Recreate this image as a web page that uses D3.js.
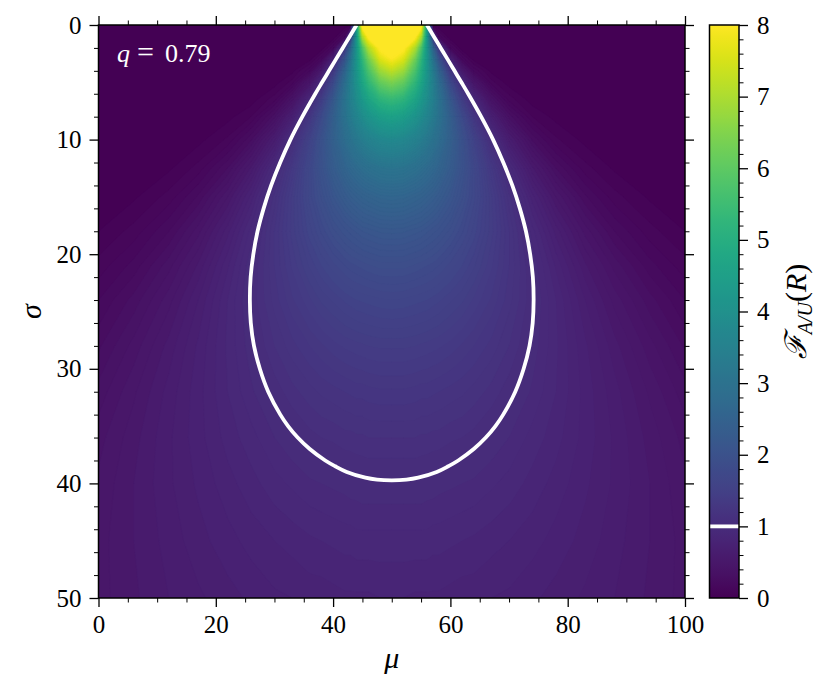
<!DOCTYPE html>
<html><head><meta charset="utf-8">
<script src="https://cdn.jsdelivr.net/npm/d3@7"></script>
<style>body{margin:0;background:#fff;}</style>
</head><body>
<svg id="chart" width="832" height="695"></svg>
<script>
// ---------------- DATA ----------------
// grid columns (mu) and rows (sigma) of the sampled field F_{A/U}(R)
const muCols = [0,6,12,17,22,26,30,33,36,38,40,42,43,44,45,46,48,50,52,54,55,56,57,58,60,62,64,67,70,74,78,83,88,94,100];
const sigmaRows = [0,1,2,3,4,5,6.5,8,10,12.5,15,18,21,24,28,32,36,40,45,50];
const F = [
[0,0,0,0,0,0,0,0,0,0,0,0,0,4.17,8.33,8.33,8.33,8.33,8.33,8.33,8.33,4.17,0,0,0,0,0,0,0,0,0,0,0,0,0],
[0,0,0,0,0,0,0,0,0,0,0,0.19,1.32,4.17,7.01,8.14,8.33,8.33,8.33,8.14,7.01,4.17,1.32,0.19,0,0,0,0,0,0,0,0,0,0,0],
[0,0,0,0,0,0,0,0,0,0.01,0.19,1.32,2.57,4.17,5.76,7.01,8.14,8.31,8.14,7.01,5.76,4.17,2.57,1.32,0.19,0.01,0,0,0,0,0,0,0,0,0],
[0,0,0,0,0,0,0,0,0.03,0.19,0.76,2.10,3.08,4.17,5.25,6.23,7.54,7.95,7.54,6.23,5.25,4.17,3.08,2.10,0.76,0.19,0.03,0,0,0,0,0,0,0,0],
[0,0,0,0,0,0,0,0.03,0.19,0.56,1.32,2.57,3.34,4.16,4.96,5.71,6.82,7.22,6.82,5.71,4.96,4.16,3.34,2.57,1.32,0.56,0.19,0.03,0,0,0,0,0,0,0],
[0,0,0,0,0,0,0.02,0.12,0.46,0.96,1.76,2.85,3.47,4.10,4.71,5.27,6.11,6.42,6.11,5.27,4.71,4.10,3.47,2.85,1.76,0.96,0.46,0.12,0.02,0,0,0,0,0,0],
[0,0,0,0,0,0.02,0.13,0.38,0.90,1.46,2.19,3.03,3.47,3.90,4.30,4.66,5.18,5.37,5.18,4.66,4.30,3.90,3.47,3.03,2.19,1.46,0.90,0.38,0.13,0.02,0,0,0,0,0],
[0,0,0,0,0.03,0.10,0.33,0.69,1.27,1.79,2.38,3.01,3.32,3.61,3.88,4.11,4.44,4.56,4.44,4.11,3.88,3.61,3.32,3.01,2.38,1.79,1.27,0.69,0.33,0.10,0.03,0,0,0,0],
[0,0,0.01,0.03,0.11,0.29,0.63,1.04,1.58,1.99,2.42,2.83,3.03,3.21,3.37,3.51,3.70,3.76,3.70,3.51,3.37,3.21,3.03,2.83,2.42,1.99,1.58,1.04,0.63,0.29,0.11,0.03,0.01,0,0],
[0,0.01,0.04,0.12,0.30,0.56,0.94,1.31,1.72,2.01,2.29,2.54,2.66,2.76,2.85,2.93,3.04,3.07,3.04,2.93,2.85,2.76,2.66,2.54,2.29,2.01,1.72,1.31,0.94,0.56,0.30,0.12,0.04,0.01,0],
[0.01,0.04,0.12,0.26,0.50,0.77,1.12,1.41,1.72,1.91,2.10,2.26,2.34,2.40,2.46,2.50,2.57,2.59,2.57,2.50,2.46,2.40,2.34,2.26,2.10,1.91,1.72,1.41,1.12,0.77,0.50,0.26,0.12,0.04,0.01],
[0.05,0.12,0.25,0.43,0.68,0.92,1.20,1.42,1.63,1.76,1.88,1.98,2.02,2.06,2.10,2.12,2.16,2.17,2.16,2.12,2.10,2.06,2.02,1.98,1.88,1.76,1.63,1.42,1.20,0.92,0.68,0.43,0.25,0.12,0.05],
[0.12,0.22,0.38,0.56,0.79,0.99,1.20,1.36,1.51,1.60,1.68,1.75,1.78,1.80,1.82,1.84,1.87,1.87,1.87,1.84,1.82,1.80,1.78,1.75,1.68,1.60,1.51,1.36,1.20,0.99,0.79,0.56,0.38,0.22,0.12],
[0.20,0.32,0.48,0.65,0.85,1.01,1.17,1.29,1.39,1.46,1.51,1.56,1.58,1.60,1.61,1.62,1.64,1.65,1.64,1.62,1.61,1.60,1.58,1.56,1.51,1.46,1.39,1.29,1.17,1.01,0.85,0.65,0.48,0.32,0.20],
[0.29,0.42,0.57,0.71,0.86,0.98,1.10,1.18,1.25,1.29,1.33,1.36,1.37,1.38,1.39,1.40,1.41,1.41,1.41,1.40,1.39,1.38,1.37,1.36,1.33,1.29,1.25,1.18,1.10,0.98,0.86,0.71,0.57,0.42,0.29],
[0.37,0.49,0.62,0.73,0.85,0.94,1.02,1.08,1.13,1.16,1.18,1.20,1.21,1.22,1.22,1.23,1.24,1.24,1.24,1.23,1.22,1.22,1.21,1.20,1.18,1.16,1.13,1.08,1.02,0.94,0.85,0.73,0.62,0.49,0.37],
[0.43,0.53,0.64,0.73,0.82,0.88,0.95,0.99,1.03,1.05,1.06,1.08,1.08,1.09,1.09,1.10,1.10,1.10,1.10,1.10,1.09,1.09,1.08,1.08,1.06,1.05,1.03,0.99,0.95,0.88,0.82,0.73,0.64,0.53,0.43],
[0.46,0.55,0.64,0.71,0.78,0.83,0.88,0.91,0.94,0.95,0.96,0.97,0.98,0.98,0.99,0.99,0.99,0.99,0.99,0.99,0.99,0.98,0.98,0.97,0.96,0.95,0.94,0.91,0.88,0.83,0.78,0.71,0.64,0.55,0.46],
[0.48,0.55,0.62,0.68,0.73,0.77,0.80,0.82,0.84,0.85,0.86,0.87,0.87,0.88,0.88,0.88,0.88,0.88,0.88,0.88,0.88,0.88,0.87,0.87,0.86,0.85,0.84,0.82,0.80,0.77,0.73,0.68,0.62,0.55,0.48],
[0.48,0.54,0.60,0.64,0.68,0.71,0.74,0.75,0.77,0.77,0.78,0.79,0.79,0.79,0.79,0.79,0.80,0.80,0.80,0.79,0.79,0.79,0.79,0.79,0.78,0.77,0.77,0.75,0.74,0.71,0.68,0.64,0.60,0.54,0.48]
];
// the F = 1 contour (white line)
const contourMu = [44,42.83,41.65,40.47,39.3,38.13,36.97,34.76,32.73,30.98,29.44,28.16,27.12,26.4,25.94,25.81,25.97,26.51,27.51,28.94,31.0,32.32,33.96,36.02,38.66,40.35,42.33,45.5,47.5,50,
  52.5,54.5,57.67,59.65,61.34,63.98,66.04,67.68,69.0,71.06,72.49,73.49,74.03,74.19,74.06,73.6,72.88,71.84,70.56,69.02,67.27,65.24,63.03,61.87,60.7,59.53,58.35,57.17,56];
const contourSigma = [0,1,2,3,4,5,6,8,10,12,14,16,18,20,22,24,26,28,30,32,34,35,36,37,38,38.5,39,39.5,39.67,39.73,
  39.67,39.5,39,38.5,38,37,36,35,34,32,30,28,26,24,22,20,18,16,14,12,10,8,6,5,4,3,2,1,0];
const xTicks = [0,20,40,60,80,100];
const yTicks = [0,10,20,30,40,50];
const cbTicks = [0,1,2,3,4,5,6,7,8];
const contourLevel = 1;
const annotationValue = "0.79";

// ---------------- LAYOUT ----------------
const FONT = '"Liberation Serif", "DejaVu Serif", serif';
const X0 = 98.5, X1 = 685, Y0 = 25, Y1 = 598;
const CB0 = 709.5, CB1 = 739;
const svg = d3.select('#chart');
const x = d3.scaleLinear().domain([0,100]).range([X0,X1]);
const y = d3.scaleLinear().domain([0,50]).range([Y0,Y1]);
const cbY = d3.scaleLinear().domain([0,8]).range([Y1,Y0]);
const color = d3.scaleSequential(d3.interpolateViridis).domain([0,8]).clamp(true);

const defs = svg.append('defs');
defs.append('clipPath').attr('id','plotclip').append('rect')
  .attr('x',X0).attr('y',Y0).attr('width',X1-X0).attr('height',Y1-Y0);
const grad = defs.append('linearGradient').attr('id','cbgrad')
  .attr('x1',0).attr('y1',1).attr('x2',0).attr('y2',0);
d3.range(0,1.0001,0.02).forEach(t=>grad.append('stop').attr('offset',t).attr('stop-color',d3.interpolateViridis(t)));

// ---------------- HEATMAP via d3.contours ----------------
const nx = muCols.length, ny = sigmaRows.length;
const values = [];
F.forEach(row=>row.forEach(v=>values.push(v)));
const colScale = d3.scaleLinear().domain(d3.range(nx)).range(muCols);
const rowScale = d3.scaleLinear().domain(d3.range(ny)).range(sigmaRows);
const step = 0.05;
const thresholds = d3.range(0, 8 + step/2, step);
const contours = d3.contours().size([nx, ny]).thresholds(thresholds)(values);
const proj = d3.geoTransform({point: function(cx, cy){
  const gi = Math.max(0, Math.min(nx-1, cx-0.5));
  const gj = Math.max(0, Math.min(ny-1, cy-0.5));
  this.stream.point(x(colScale(gi)), y(rowScale(gj)));
}});
const path = d3.geoPath(proj);
const heat = svg.append('g').attr('clip-path','url(#plotclip)');
heat.append('rect').attr('x',X0).attr('y',Y0).attr('width',X1-X0).attr('height',Y1-Y0).attr('fill',color(0));
heat.selectAll('path').data(contours).join('path')
  .attr('d', path)
  .attr('fill', d=>color(Math.min(8, d.value + step/2)))
  .attr('stroke', d=>color(Math.min(8, d.value + step/2)))
  .attr('stroke-width', 0.3);

// ---------------- CONTOUR LINE ----------------
const pts = contourMu.map((m,i)=>[m, contourSigma[i]]);
const line = d3.line().x(d=>x(d[0])).y(d=>y(d[1])).curve(d3.curveCatmullRom.alpha(0.5));
svg.append('g').attr('clip-path','url(#plotclip)').append('path')
  .attr('d', line(pts)).attr('fill','none').attr('stroke','#fff')
  .attr('stroke-width',3.8).attr('stroke-linejoin','round');

// annotation
const ann = svg.append('text').attr('x',117).attr('y',62).attr('fill','#fff')
  .style('font-family',FONT).attr('font-size',26);
ann.append('tspan').attr('font-style','italic').text('q');
ann.append('tspan').attr('x',137).attr('font-size',30).text('=');
ann.append('tspan').attr('x',165).text(annotationValue);

// ---------------- AXES ----------------
function style(g, size){
  g.attr('font-family', null);
  g.select('.domain').remove();
  g.selectAll('line').attr('stroke','#000').attr('stroke-width', size>5?1.3:1);
  g.selectAll('text').style('font-family',FONT).attr('font-size',25).attr('fill','#000');
}
const xMinor = d3.range(0,101,5).filter(v=>!xTicks.includes(v));
const yMinor = d3.range(0,51,2).filter(v=>!yTicks.includes(v));
const MAJ = 9, MIN = 4.5;
// bottom
svg.append('g').attr('transform',`translate(0,${Y1})`).call(d3.axisBottom(x).tickValues(xTicks).tickSize(MAJ).tickPadding(8)).call(style,MAJ);
svg.append('g').attr('transform',`translate(0,${Y1})`).call(d3.axisBottom(x).tickValues(xMinor).tickSize(MIN).tickFormat('')).call(style,MIN);
// top
svg.append('g').attr('transform',`translate(0,${Y0})`).call(d3.axisTop(x).tickValues(xTicks).tickSize(MAJ).tickFormat('')).call(style,MAJ);
svg.append('g').attr('transform',`translate(0,${Y0})`).call(d3.axisTop(x).tickValues(xMinor).tickSize(MIN).tickFormat('')).call(style,MIN);
// left
svg.append('g').attr('transform',`translate(${X0},0)`).call(d3.axisLeft(y).tickValues(yTicks).tickSize(MAJ).tickPadding(8)).call(style,MAJ);
svg.append('g').attr('transform',`translate(${X0},0)`).call(d3.axisLeft(y).tickValues(yMinor).tickSize(MIN).tickFormat('')).call(style,MIN);
// right
svg.append('g').attr('transform',`translate(${X1},0)`).call(d3.axisRight(y).tickValues(yTicks).tickSize(MAJ).tickFormat('')).call(style,MAJ);
svg.append('g').attr('transform',`translate(${X1},0)`).call(d3.axisRight(y).tickValues(yMinor).tickSize(MIN).tickFormat('')).call(style,MIN);

svg.append('rect').attr('x',X0).attr('y',Y0).attr('width',X1-X0).attr('height',Y1-Y0)
  .attr('fill','none').attr('stroke','#000').attr('stroke-width',1.5);

// axis labels
svg.append('text').attr('x',(X0+X1)/2).attr('y',668).attr('text-anchor','middle')
  .style('font-family',FONT).attr('font-style','italic').attr('font-size',30).text('μ');
svg.append('text').attr('transform',`translate(41,${(Y0+Y1)/2}) rotate(-90)`).attr('text-anchor','middle')
  .style('font-family',FONT).attr('font-style','italic').attr('font-size',30).text('σ');

// ---------------- COLORBAR ----------------
svg.append('rect').attr('x',CB0).attr('y',Y0).attr('width',CB1-CB0).attr('height',Y1-Y0).attr('fill','url(#cbgrad)');
svg.append('line').attr('x1',CB0).attr('x2',CB1).attr('y1',cbY(contourLevel)).attr('y2',cbY(contourLevel))
  .attr('stroke','#fff').attr('stroke-width',3.8);
svg.append('rect').attr('x',CB0).attr('y',Y0).attr('width',CB1-CB0).attr('height',Y1-Y0)
  .attr('fill','none').attr('stroke','#000').attr('stroke-width',1.5);
const cbMinor = d3.range(0,8.001,0.2).filter(v=>Math.abs(v-Math.round(v))>1e-6);
svg.append('g').attr('transform',`translate(${CB1},0)`).call(d3.axisRight(cbY).tickValues(cbTicks).tickSize(MAJ).tickPadding(9)).call(style,MAJ);
svg.append('g').attr('transform',`translate(${CB1},0)`).call(d3.axisRight(cbY).tickValues(cbMinor).tickSize(MIN).tickFormat('')).call(style,MIN);

// colorbar label  F_{A/U}(R)
const cbl = svg.append('text').attr('transform',`translate(806,${(Y0+Y1)/2}) rotate(-90)`)
  .attr('text-anchor','middle').style('font-family',FONT).attr('font-size',30);
cbl.append('tspan').style('font-family','"DejaVu Serif", serif').attr('font-style','italic').text('ℱ');
cbl.append('tspan').attr('font-style','italic').attr('font-size',20).attr('dy',6).text('A/U');
cbl.append('tspan').attr('dy',-6).text('(');
cbl.append('tspan').attr('font-style','italic').text('R');
cbl.append('tspan').text(')');
</script>
</body></html>
